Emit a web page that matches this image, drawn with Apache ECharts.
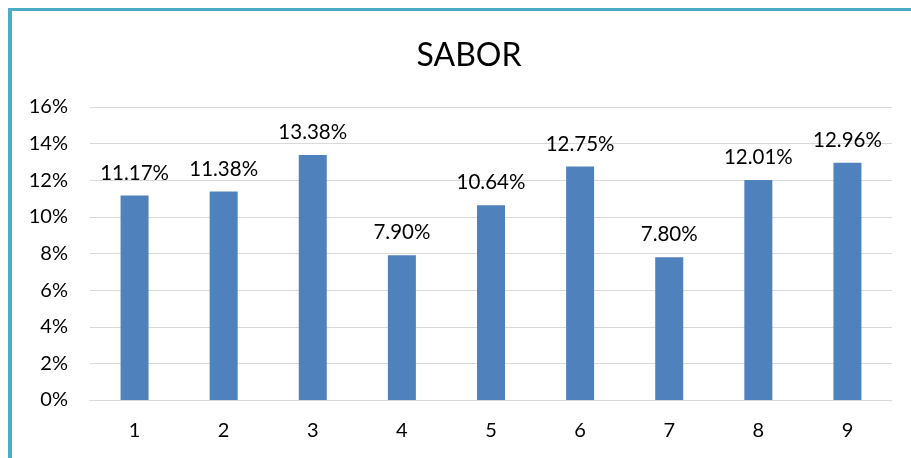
<!DOCTYPE html>
<html>
<head>
<meta charset="utf-8">
<script src="https://cdn.jsdelivr.net/npm/echarts@6/dist/echarts.min.js"></script>
<style>
  html, body { margin: 0; padding: 0; background: #fff; }
  .wrap { position: relative; width: 911px; height: 458px; }
  .frame { position: absolute; left: 8px; top: 8px; right: 0; bottom: 0;
           border-left: 4px solid #4BACC6; border-top: 3px solid #4BACC6; pointer-events: none; }
  #chart { width: 911px; height: 458px; }
</style>
</head>
<body>
<div class="wrap">
  <div id="chart"></div>
  <div class="frame"></div>
</div>
<script>
const categories = ['1', '2', '3', '4', '5', '6', '7', '8', '9']
const values = [11.17, 11.38, 13.38, 7.90, 10.64, 12.75, 7.80, 12.01, 12.96]
const yTicks = [0, 2, 4, 6, 8, 10, 12, 14, 16]

const font = 'Lato, "Open Sans", sans-serif'
const chart = echarts.init(document.getElementById('chart'))

chart.setOption({
  animation: false,
  title: {
    text: 'SABOR',
    left: 464, top: 35,
    textAlign: 'center',
    textStyle: { fontFamily: font, fontSize: 32, fontWeight: 'normal', color: '#000' },
  },
  grid: { left: 90, right: 19, top: 107, bottom: 58 },
  xAxis: {
    type: 'category',
    data: categories,
    axisLine: { lineStyle: { color: '#D9D9D9', width: 1 } },
    axisTick: { show: false },
    axisLabel: { fontFamily: font, fontSize: 20, color: '#000', margin: 21 },
  },
  yAxis: {
    type: 'value',
    min: yTicks[0],
    max: yTicks[yTicks.length - 1],
    interval: 2,
    axisLine: { show: false },
    axisTick: { show: false },
    splitLine: { lineStyle: { color: '#D9D9D9', width: 1 } },
    axisLabel: { fontFamily: font, fontSize: 20, color: '#000', margin: 22, formatter: v => v + '%' },
  },
  series: [{
    type: 'bar',
    data: values,
    barWidth: 28,
    itemStyle: { color: '#4F81BD' },
    label: {
      show: true,
      position: 'top',
      distance: 12,
      fontFamily: font, fontSize: 20.5, color: '#000',
      formatter: p => p.value.toFixed(2) + '%',
    },
  }],
})
</script>
</body>
</html>
